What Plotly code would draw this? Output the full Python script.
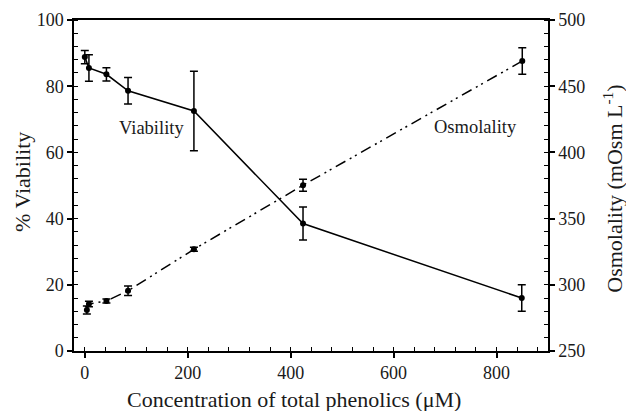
import plotly.graph_objects as go

# Data
conc_viab = [0, 8, 42, 84, 212, 424, 849]
viability = [88.8, 85.5, 83.6, 78.6, 72.5, 38.5, 16.0]
viab_err = [2.0, 4.0, 2.0, 4.0, 12.0, 5.0, 4.0]

conc_osm = [4, 8, 42, 84, 212, 424, 850]
osmolality = [281.0, 285.5, 287.8, 295.5, 326.8, 375.2, 469.0]
osm_err = [3.0, 2.0, 1.5, 3.5, 1.5, 4.5, 10.0]

FONT = "Liberation Serif"
TXT = "#1a1a1a"

fig = go.Figure()
fig.add_trace(go.Scatter(
    x=conc_viab, y=viability, mode="lines+markers",
    line=dict(color="black", width=1.5),
    marker=dict(color="black", size=6, symbol="circle"),
    error_y=dict(type="data", array=viab_err, color="black", thickness=1.5, width=4),
    showlegend=False,
))
fig.add_trace(go.Scatter(
    x=conc_osm, y=osmolality, mode="lines+markers", yaxis="y2",
    line=dict(color="black", width=1.5, dash="11px,5px,2px,4px,2px,5px"),
    marker=dict(color="black", size=6, symbol="circle"),
    error_y=dict(type="data", array=osm_err, color="black", thickness=1.5, width=4),
    showlegend=False,
))

axis_common = dict(
    showgrid=False, zeroline=False, showline=True, linecolor="black", linewidth=1.5,
    ticks="outside", ticklen=5, tickwidth=1.5, tickcolor="black", automargin=False,
    tickfont=dict(family=FONT, size=18, color=TXT),
)

title_font = dict(family=FONT, size=22, color=TXT)

fig.update_layout(
    width=626, height=411,
    margin=dict(l=74, r=78, t=20, b=60),
    plot_bgcolor="white", paper_bgcolor="white",
    font=dict(family=FONT, color=TXT),
    xaxis=dict(
        **axis_common, range=[-21, 900], tick0=0, dtick=200, mirror=True,
        minor=dict(ticks="inside", ticklen=4, tickwidth=1, tickcolor="black", dtick=40, tick0=0, showgrid=False),
    ),
    yaxis=dict(
        **axis_common, range=[0, 100], tick0=0, dtick=20,
        minor=dict(ticks="inside", ticklen=4, tickwidth=1, tickcolor="black", dtick=4, tick0=0, showgrid=False),
    ),
    yaxis2=dict(
        **axis_common, range=[250, 500], tick0=250, dtick=50, overlaying="y", side="right",
        minor=dict(ticks="inside", ticklen=4, tickwidth=1, tickcolor="black", dtick=10, tick0=250, showgrid=False),
    ),
    annotations=[
        dict(x=130, y=67.5, xref="x", yref="y", text="Viability", showarrow=False,
             font=dict(family=FONT, size=18.5, color=TXT)),
        dict(x=759, y=67.8, xref="x", yref="y", text="Osmolality", showarrow=False,
             font=dict(family=FONT, size=18.5, color=TXT)),
        dict(x=0.464, y=-0.148, xref="paper", yref="paper", xanchor="center", yanchor="middle",
             text="Concentration of total phenolics (μM)", showarrow=False, font=title_font),
        dict(x=-0.110, y=0.51, xref="paper", yref="paper", xanchor="center", yanchor="middle",
             text="% Viability", textangle=-90, showarrow=False, font=title_font),
        dict(x=1.137, y=0.49, xref="paper", yref="paper", xanchor="center", yanchor="middle",
             text="Osmolality (mOsm L<sup>-1</sup>)", textangle=-90, showarrow=False, font=title_font),
    ],
)

fig.write_html("out.html")
